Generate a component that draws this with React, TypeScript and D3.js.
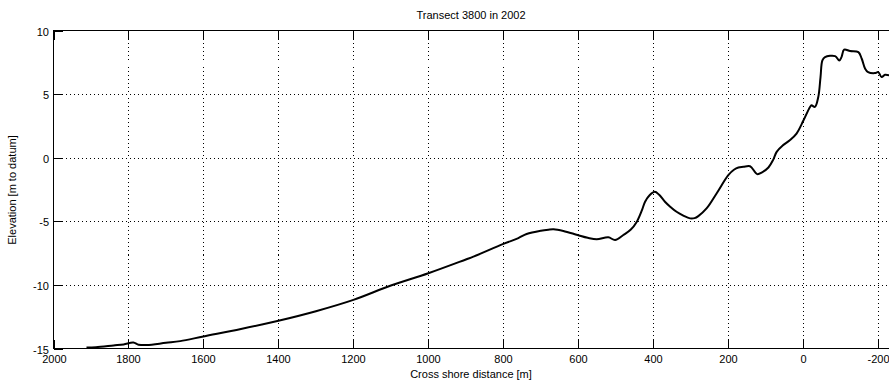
import React, { useEffect, useRef } from "react";
import * as d3 from "d3";

const distance = [
  1912, 1887, 1840, 1813, 1787, 1773, 1751, 1700, 1662, 1600, 1500, 1400, 1300, 1200,
  1100, 1000, 900, 880, 800, 760, 738, 700, 680, 666, 640, 602, 575, 551, 520, 502, 480,
  460, 444, 430, 422, 410, 396, 385, 369, 355, 338, 320, 302, 290, 280, 258, 230, 200,
  185, 173, 160, 142, 123, 110, 93, 80, 71, 55, 36, 18, 0, -18, -22, -31,
  -40, -46, -51, -58, -85, -96, -102, -109, -125, -147, -156, -165, -173, -191, -200,
  -209, -218, -229,
];
const elevation = [
  -14.92, -14.9, -14.76, -14.68, -14.53, -14.7, -14.73, -14.55, -14.42, -14.05, -13.47,
  -12.82, -12.07, -11.18, -10.05, -9.08, -8.0, -7.78, -6.78, -6.32, -6.0, -5.74, -5.66,
  -5.63, -5.76, -6.08, -6.3, -6.42, -6.26, -6.47, -6.08, -5.65, -5.03, -4.1, -3.46,
  -2.95, -2.68, -2.9, -3.46, -3.85, -4.25, -4.55, -4.77, -4.75, -4.59, -3.99, -2.75,
  -1.37, -0.95, -0.77, -0.72, -0.67, -1.29, -1.15, -0.77, -0.15, 0.46, 0.95, 1.37, 1.9,
  2.9, 3.99, 4.12, 3.99, 4.77, 6.34, 7.65, 7.91, 7.99, 7.65, 7.91, 8.49, 8.38, 8.3,
  7.78, 7.0, 6.73, 6.65, 6.73, 6.34, 6.52, 6.47,
];
const xTicks = [2000, 1800, 1600, 1400, 1200, 1000, 800, 600, 400, 200, 0, -200];
const yTicks = [10, 5, 0, -5, -10, -15];
const title = "Transect 3800 in 2002";
const xLabel = "Cross shore distance [m]";
const yLabel = "Elevation [m to datum]";

export default function App() {
  const ref = useRef<SVGSVGElement>(null);
  useEffect(() => {
    const svg = d3.select(ref.current);
    svg.selectAll("*").remove();
    const W = 889, H = 382;
    const left = 53.5, right = 897, top = 30.5, bottom = 348.5;
    const x = d3.scaleLinear().domain([2000, -250]).range([left, right]);
    const y = d3.scaleLinear().domain([-15, 10]).range([bottom, top]);
    const font = "'Liberation Sans', Arial, Helvetica, sans-serif";

    svg.append("rect").attr("width", W).attr("height", H).attr("fill", "#fff");

    const g = svg.append("g").attr("shape-rendering", "crispEdges");
    xTicks.forEach((t) => {
      if (t === 2000) return;
      const px = Math.round(x(t)) + 0.5;
      g.append("line").attr("x1", px).attr("x2", px).attr("y1", top).attr("y2", bottom)
        .attr("stroke", "#000").attr("stroke-dasharray", "1 3");
    });
    yTicks.forEach((t) => {
      if (t === 10 || t === -15) return;
      const py = Math.round(y(t)) + 0.5;
      g.append("line").attr("x1", left).attr("x2", right).attr("y1", py).attr("y2", py)
        .attr("stroke", "#000").attr("stroke-dasharray", "1 3");
    });
    g.append("rect").attr("x", left).attr("y", top).attr("width", right - left)
      .attr("height", bottom - top).attr("fill", "none").attr("stroke", "#000");
    const tl = 9;
    xTicks.forEach((t) => {
      const px = Math.round(x(t)) + 0.5;
      g.append("line").attr("x1", px).attr("x2", px).attr("y1", bottom).attr("y2", bottom - tl).attr("stroke", "#000");
      g.append("line").attr("x1", px).attr("x2", px).attr("y1", top).attr("y2", top + tl).attr("stroke", "#000");
      svg.append("text").attr("x", px).attr("y", 363).attr("text-anchor", "middle")
        .attr("font-family", font).attr("font-size", 11).text(String(t));
    });
    yTicks.forEach((t) => {
      const py = Math.round(y(t)) + 0.5;
      g.append("line").attr("x1", left).attr("x2", left + tl).attr("y1", py).attr("y2", py).attr("stroke", "#000");
      svg.append("text").attr("x", 49).attr("y", py + 4).attr("text-anchor", "end")
        .attr("font-family", font).attr("font-size", 11).text(String(t));
    });

    const line = d3.line<number>()
      .x((_, i) => x(distance[i]))
      .y((d) => y(d))
      .curve(d3.curveCatmullRom.alpha(0.5));
    svg.append("path").datum(elevation).attr("d", line).attr("fill", "none")
      .attr("stroke", "#000").attr("stroke-width", 2).attr("stroke-linejoin", "round");

    svg.append("text").attr("x", 471).attr("y", 19).attr("text-anchor", "middle")
      .attr("font-family", font).attr("font-size", 11).text(title);
    svg.append("text").attr("x", 471).attr("y", 378).attr("text-anchor", "middle")
      .attr("font-family", font).attr("font-size", 11).text(xLabel);
    svg.append("text").attr("transform", "translate(16,190) rotate(-90)").attr("text-anchor", "middle")
      .attr("font-family", font).attr("font-size", 11).text(yLabel);
  }, []);
  return (
    <div style={{ position: "absolute", left: 0, top: 0 }}>
      <svg ref={ref} width={889} height={382} style={{ display: "block" }} />
    </div>
  );
}
